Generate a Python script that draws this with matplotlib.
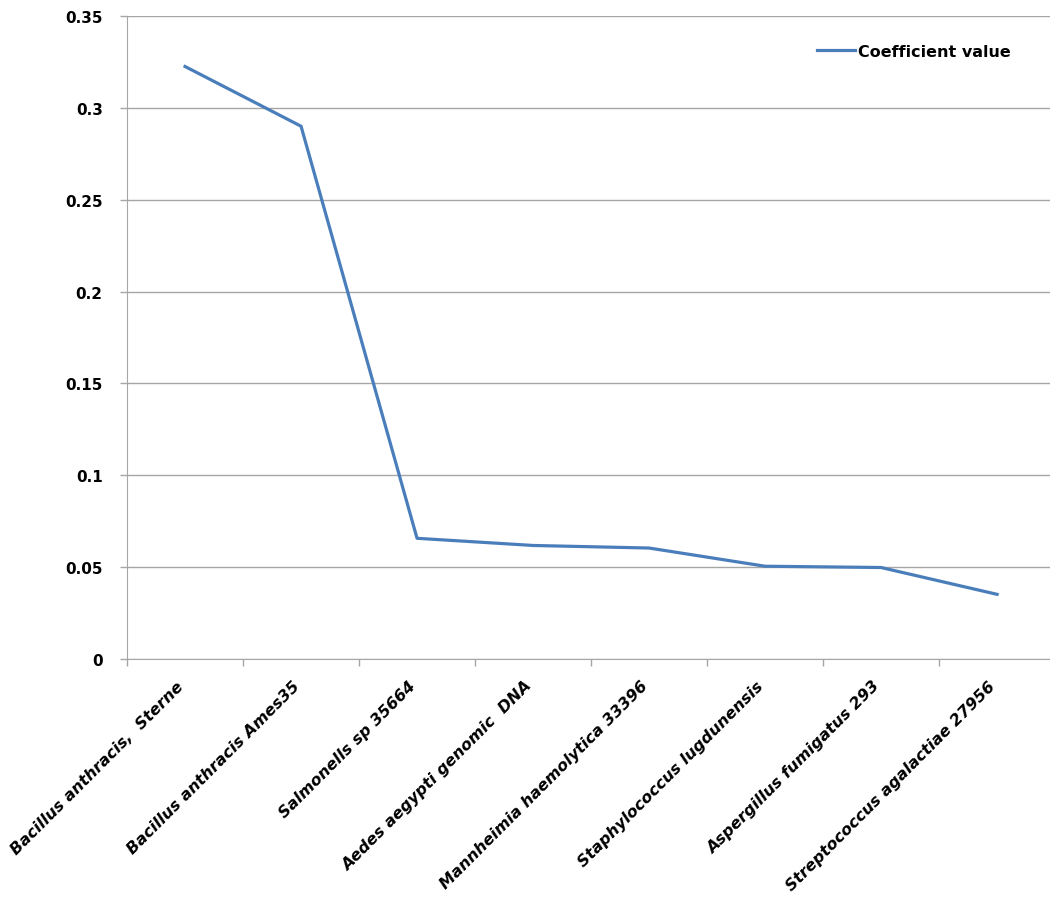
import matplotlib
matplotlib.use("Agg")
import matplotlib.pyplot as plt
import matplotlib.transforms as mtransforms
import numpy as np

organisms = [
    "Bacillus anthracis,  Sterne",
    "Bacillus anthracis Ames35",
    "Salmonells sp 35664",
    "Aedes aegypti genomic  DNA",
    "Mannheimia haemolytica 33396",
    "Staphylococcus lugdunensis",
    "Aspergillus fumigatus 293",
    "Streptococcus agalactiae 27956",
]
coefficient = [0.3225, 0.290, 0.0657, 0.0618, 0.0604, 0.0505, 0.0498, 0.0352]
y_ticks = [0, 0.05, 0.1, 0.15, 0.2, 0.25, 0.3, 0.35]
y_tick_labels = ["0", "0.05", "0.1", "0.15", "0.2", "0.25", "0.3", "0.35"]

plt.rcParams["font.family"] = ["DejaVu Sans"]

fig = plt.figure(figsize=(10.5, 9.03), dpi=100)
ax = fig.add_axes([0.121, 0.2691, 0.8838, 0.7121])

x = np.arange(len(organisms))
line, = ax.plot(x, coefficient, color="#4A7EBB", linewidth=2.3,
                solid_joinstyle="round", label="Coefficient value", zorder=3)

ax.set_xlim(-0.5, len(organisms) - 0.5)
ax.set_ylim(0, 0.35)

grid_color = "#A6A6A6"
ax.set_yticks(y_ticks)
ax.set_yticklabels(y_tick_labels, fontsize=11, fontweight="bold")
ax.yaxis.grid(True, color=grid_color, linewidth=1.0)
ax.tick_params(axis="y", length=5, width=1, color=grid_color, pad=12.5)

# category boundaries carry the tick marks
ax.set_xticks(np.arange(-0.5, len(organisms), 1.0))
ax.set_xticklabels([])
ax.tick_params(axis="x", which="major", length=5, width=1, color=grid_color)

# slanted category names, anchored just below each category centre
name_offset = mtransforms.ScaledTranslation(-0.09, -0.19, fig.dpi_scale_trans)
for xi, name in zip(x, organisms):
    ax.text(xi, 0, name, transform=ax.get_xaxis_transform() + name_offset,
            rotation=45, ha="right", va="top", rotation_mode="anchor",
            fontsize=11.5, fontstyle="oblique", fontweight="bold")

for side in ["top", "right"]:
    ax.spines[side].set_visible(False)
ax.spines["left"].set_color(grid_color)
ax.spines["bottom"].set_color(grid_color)
ax.set_axisbelow(True)

leg = fig.legend(handles=[line], loc="center left",
                 bbox_to_anchor=(0.764, 0.942), frameon=False,
                 handlelength=2.4, handletextpad=0.2,
                 prop={"weight": "bold", "size": 11.5})

fig.savefig("out.png", dpi=100)
